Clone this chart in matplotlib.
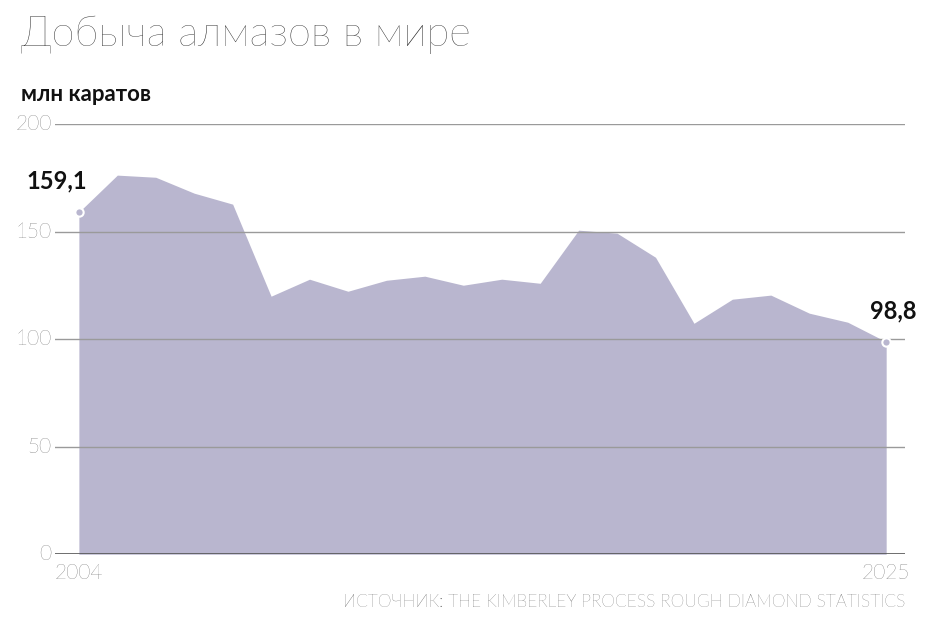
import numpy as np
import matplotlib.pyplot as plt

# Добыча алмазов, млн каратов
years = list(range(2004, 2026))
values = [159.1, 176.3, 175.3, 167.9, 162.8, 120.0, 127.9, 122.3, 127.4, 129.3, 125.1,
          127.9, 126.0, 150.7, 149.3, 138.1, 107.4, 118.6, 120.5, 112.1, 107.9, 98.8]
yticks = [0, 50, 100, 150, 200]

plt.rcParams['font.family'] = ['Lato', 'DejaVu Sans']

fig = plt.figure(figsize=(9.33, 6.4), dpi=100)
ax = fig.add_axes([0.059, 0.134, 0.911, 0.672])

ax.fill_between(years, values, 0, color='#b9b6cf', lw=0, zorder=1)
for t in yticks[1:]:
    ax.axhline(t, color='#9a9a9a', lw=1, zorder=2)
ax.axhline(0, color='#555555', lw=1.2, zorder=3)

ax.set_xlim(2003.38, 2025.49)
ax.set_ylim(0, 200)
for s in ax.spines.values():
    s.set_visible(False)
ax.set_xticks([])
ax.set_yticks([])
for t in yticks:
    ax.text(-0.004, t, str(t), transform=ax.get_yaxis_transform(), ha='right',
            va='center', fontsize=15, color='#333333', fontweight='light')
for yr in (years[0], years[-1]):
    ax.text(yr, -4, str(yr), ha='center', va='top', fontsize=15, color='#333333',
            fontweight='light')

# подписи крайних точек
for i, off in ((0, (-38, 14)), (-1, (-12, 14))):
    ax.plot(years[i], values[i], 'o', ms=6, mfc='#b9b6cf', mec='white', mew=1.5, zorder=4, clip_on=False)
    ax.annotate(f"{values[i]:.1f}".replace('.', ','), (years[i], values[i]),
                xytext=off, textcoords='offset points', fontsize=17, fontweight='bold',
                color='#111111', ha='left', va='bottom')

fig.text(0.022, 0.945, 'Добыча алмазов в мире', fontsize=30, fontweight='light',
         color='#222222', va='center')
fig.text(0.022, 0.852, 'млн каратов', fontsize=16, fontweight='bold', color='#111111', va='center')
fig.text(0.970, 0.06, 'ИСТОЧНИК: THE KIMBERLEY PROCESS ROUGH DIAMOND STATISTICS',
         fontsize=12.5, fontweight='light', color='#333333', ha='right', va='center')

fig.savefig('out.png', dpi=100, facecolor='white')
